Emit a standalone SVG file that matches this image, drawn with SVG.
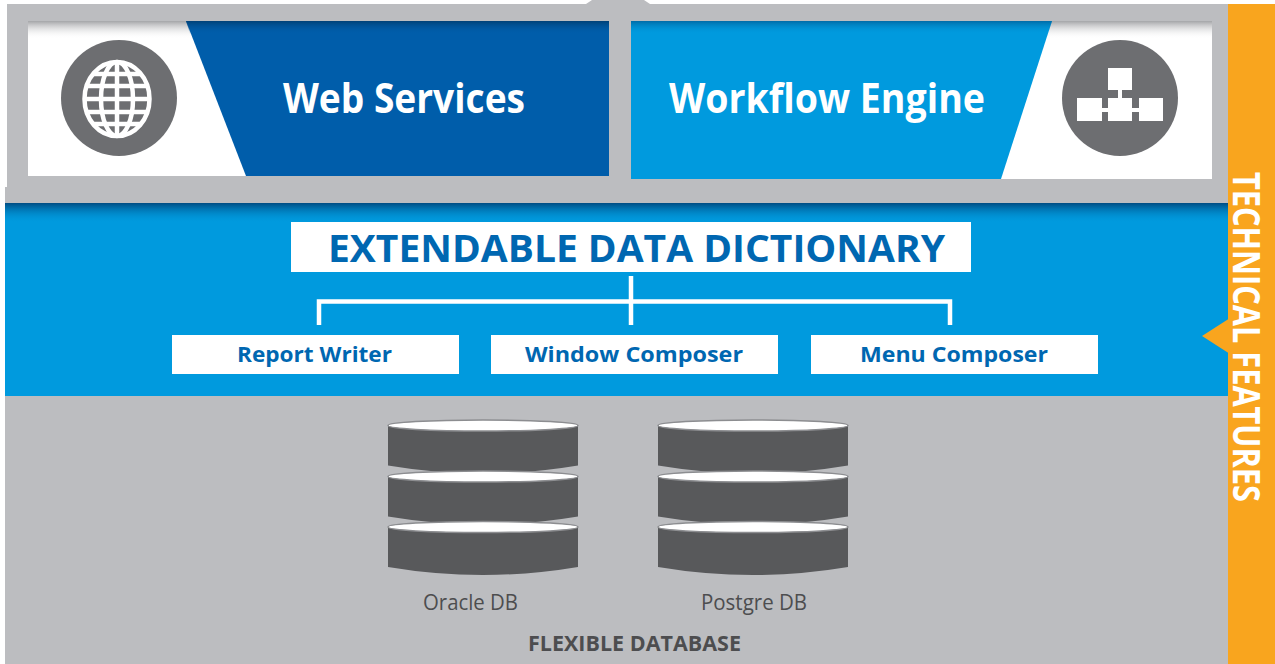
<svg xmlns="http://www.w3.org/2000/svg" width="1275" height="664" viewBox="0 0 1275 664">
  <defs>
    <linearGradient id="panelShadow" x1="0" y1="0" x2="0" y2="1">
      <stop offset="0" stop-color="#9a9b9e" stop-opacity="0.9"/>
      <stop offset="1" stop-color="#ffffff" stop-opacity="0"/>
    </linearGradient>
    <linearGradient id="blueShadow" x1="0" y1="0" x2="0" y2="1">
      <stop offset="0" stop-color="#003f73" stop-opacity="0.85"/>
      <stop offset="1" stop-color="#009ADE" stop-opacity="0"/>
    </linearGradient>
    <linearGradient id="darkShadow" x1="0" y1="0" x2="0" y2="1">
      <stop offset="0" stop-color="#003a6b" stop-opacity="0.8"/>
      <stop offset="1" stop-color="#005DAA" stop-opacity="0"/>
    </linearGradient>
    <g id="disk">
      <path d="M-95,0 L-95,40 Q0,56 95,40 L95,0 Z" fill="#58595B"/>
      <ellipse cx="0" cy="0" rx="95" ry="5.5" fill="#ffffff" stroke="#8c8d90" stroke-width="1.5"/>
    </g>
  </defs>
  <style>
    .title { font-family: "Open Sans", "Liberation Sans", sans-serif; font-weight: bold; fill: #ffffff; font-size: 41px; }
    .dict { font-family: "Open Sans", "Liberation Sans", sans-serif; font-weight: bold; fill: #0067B1; font-size: 37px; }
    .mod { font-family: "Open Sans", "Liberation Sans", sans-serif; font-weight: bold; fill: #0067B1; font-size: 22px; }
    .db { font-family: "Open Sans", "Liberation Sans", sans-serif; fill: #4D4D4F; font-size: 21px; }
    .dbb { font-family: "Open Sans", "Liberation Sans", sans-serif; font-weight: bold; fill: #4D4D4F; font-size: 22px; }
    .tech { font-family: "Open Sans", "Liberation Sans", sans-serif; font-weight: bold; fill: #ffffff; font-size: 37px; }
    .wbox { fill: #ffffff; }
    .conn { stroke: #ffffff; stroke-width: 4.5; fill: none; }
  </style>

  <rect width="1275" height="664" fill="#ffffff"/>

  <!-- background frame -->
  <g id="frame">
    <path d="M592,0 L644,0 L650,4 L1228,4 L1228,664 L5,664 L5,187 L7,187 L7,4 L586,4 Z" fill="#BCBDC0"/>
  </g>

  <!-- Web Services -->
  <g id="web-services">
    <rect x="28" y="21" width="581" height="155" fill="#ffffff"/>
    <rect x="28" y="21" width="581" height="18" fill="url(#panelShadow)"/>
    <path d="M186,21 L609,21 L609,176 L246,176 Z" fill="#005DAA"/>
    <path d="M186,21 L609,21 L609,34 L190,34 Z" fill="url(#darkShadow)"/>
    <circle cx="119" cy="98" r="58" fill="#6D6E71"/>
    <g fill="none" stroke="#ffffff" stroke-width="4.5">
      <ellipse cx="117" cy="99" rx="32.5" ry="37"/>
      <ellipse cx="117" cy="99" rx="16" ry="37"/>
      <line x1="117" y1="62" x2="117" y2="136"/>
      <line x1="93" y1="74" x2="141" y2="74"/>
      <line x1="86" y1="86" x2="148" y2="86"/>
      <line x1="85" y1="99" x2="149" y2="99"/>
      <line x1="86" y1="112" x2="148" y2="112"/>
      <line x1="93" y1="124" x2="141" y2="124"/>
    </g>
    <text class="title" x="283" y="113" textLength="242" lengthAdjust="spacingAndGlyphs">Web Services</text>
  </g>

  <!-- Workflow Engine -->
  <g id="workflow-engine">
    <rect x="631" y="21" width="581" height="158" fill="#ffffff"/>
    <rect x="631" y="21" width="581" height="18" fill="url(#panelShadow)"/>
    <path d="M631,21 L1052,21 L1001,179 L631,179 Z" fill="#009ADE"/>
    <path d="M631,21 L1052,21 L1048,34 L631,34 Z" fill="url(#blueShadow)" opacity="0.6"/>
    <circle cx="1120" cy="98" r="58" fill="#6D6E71"/>
    <g fill="#ffffff">
      <rect x="1108" y="68" width="24" height="22"/>
      <rect x="1118" y="89" width="4" height="10"/>
      <rect x="1077" y="98" width="25" height="23"/>
      <rect x="1108" y="98" width="24" height="23"/>
      <rect x="1139" y="98" width="24" height="23"/>
      <rect x="1101" y="108" width="8" height="4"/>
      <rect x="1131" y="108" width="9" height="4"/>
    </g>
    <text class="title" x="669" y="113" textLength="316" lengthAdjust="spacingAndGlyphs">Workflow Engine</text>
  </g>

  <!-- blue dictionary section -->
  <g id="dictionary-section">
    <rect x="5" y="203" width="1223" height="193" fill="#009ADE"/>
    <rect x="5" y="203" width="1223" height="20" fill="url(#blueShadow)"/>
  </g>

  <g id="data-dictionary">
    <rect class="wbox" x="291" y="222" width="680" height="50"/>
    <text class="dict" x="328" y="262" textLength="617" lengthAdjust="spacingAndGlyphs">EXTENDABLE DATA DICTIONARY</text>
  </g>

  <g id="connectors">
    <line class="conn" x1="631" y1="276" x2="631" y2="325"/>
    <polyline class="conn" points="319,325 319,301.5 950,301.5 950,325"/>
  </g>

  <g id="report-writer">
    <rect class="wbox" x="172" y="335" width="287" height="39"/>
    <text class="mod" x="237" y="362" textLength="155" lengthAdjust="spacingAndGlyphs">Report Writer</text>
  </g>
  <g id="window-composer">
    <rect class="wbox" x="491" y="335" width="287" height="39"/>
    <text class="mod" x="525" y="362" textLength="218" lengthAdjust="spacingAndGlyphs">Window Composer</text>
  </g>
  <g id="menu-composer">
    <rect class="wbox" x="811" y="335" width="287" height="39"/>
    <text class="mod" x="860" y="362" textLength="188" lengthAdjust="spacingAndGlyphs">Menu Composer</text>
  </g>

  <!-- databases -->
  <g id="oracle-db">
    <use href="#disk" x="483" y="425.5"/>
    <use href="#disk" x="483" y="476.5"/>
    <use href="#disk" x="483" y="527"/>
    <text class="db" x="423" y="610" textLength="95" lengthAdjust="spacingAndGlyphs">Oracle DB</text>
  </g>
  <g id="postgre-db">
    <use href="#disk" x="753" y="425.5"/>
    <use href="#disk" x="753" y="476.5"/>
    <use href="#disk" x="753" y="527"/>
    <text class="db" x="701" y="610" textLength="106" lengthAdjust="spacingAndGlyphs">Postgre DB</text>
  </g>
  <g id="flexible-database">
    <text class="dbb" x="528" y="651" textLength="213" lengthAdjust="spacingAndGlyphs">FLEXIBLE DATABASE</text>
  </g>

  <!-- technical features bar -->
  <g id="technical-features">
    <rect x="1228" y="4" width="47" height="660" fill="#F9A51E"/>
    <polygon points="1228.5,319 1202,336 1228.5,353" fill="#F9A51E"/>
    <text class="tech" transform="translate(1233,172) rotate(90)" x="0" y="0" textLength="330" lengthAdjust="spacingAndGlyphs">TECHNICAL FEATURES</text>
  </g>
</svg>
